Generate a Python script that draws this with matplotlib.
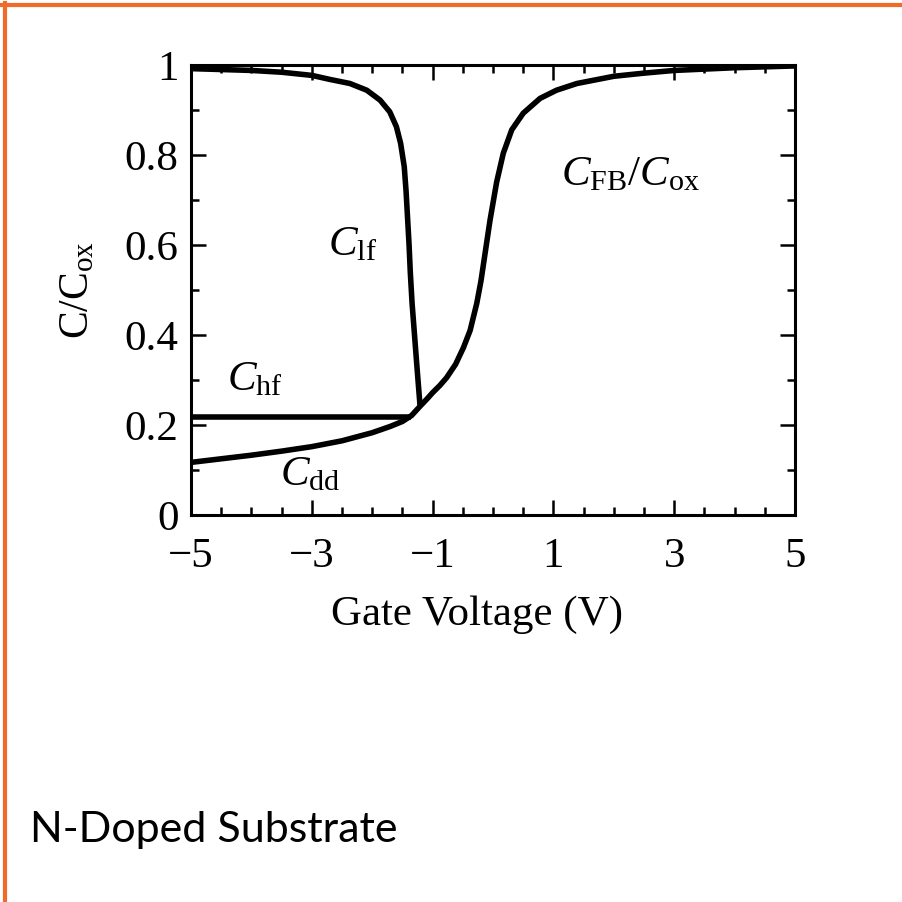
"""C-V curves of an MOS capacitor on an n-doped substrate."""

import matplotlib.pyplot as plt
from matplotlib.lines import Line2D
from matplotlib.ticker import MultipleLocator

plt.rcParams['font.family'] = ['Liberation Serif', 'DejaVu Serif']
plt.rcParams['mathtext.fontset'] = 'custom'
plt.rcParams['mathtext.rm'] = 'Liberation Serif'
plt.rcParams['mathtext.it'] = 'Liberation Serif:italic'

# depletion / flat-band branch (C_dd on the left, C_FB on the right)
v_main = [-5, -4.5, -4, -3.5, -3, -2.5, -2, -1.7, -1.5, -1.35, -1.2, -1.1,
          -1.0, -0.88, -0.77, -0.62, -0.49, -0.38, -0.27, -0.2, -0.1, -0.05,
          0.06, 0.17, 0.31, 0.5, 0.78, 1.05, 1.39, 2, 2.5, 3, 4, 5]
c_main = [0.117, 0.125, 0.133, 0.142, 0.152, 0.165, 0.183, 0.197, 0.208,
          0.221, 0.243, 0.257, 0.272, 0.288, 0.305, 0.335, 0.372, 0.41,
          0.47, 0.52, 0.61, 0.655, 0.74, 0.804, 0.856, 0.893, 0.926, 0.944,
          0.959, 0.975, 0.982, 0.988, 0.994, 0.998]

# low-frequency branch in inversion
v_lf = [-5, -4, -3.5, -3, -2.7, -2.37, -2.09, -1.87, -1.71, -1.6, -1.53,
        -1.47, -1.44, -1.415, -1.39, -1.37, -1.34, -1.3, -1.26, -1.21]
c_lf = [0.992, 0.988, 0.984, 0.977, 0.968, 0.959, 0.944, 0.922, 0.896,
        0.863, 0.826, 0.774, 0.72, 0.66, 0.6, 0.54, 0.47, 0.40, 0.33, 0.245]

# high-frequency branch in inversion
v_hf = [-5, -1.35]
c_hf = [0.218, 0.218]

x_ticks = [-5, -3, -1, 1, 3, 5]
x_labels = ['\u22125', '\u22123', '\u22121', '1', '3', '5']
y_ticks = [0, 0.2, 0.4, 0.6, 0.8, 1]
y_labels = ['0', '0.2', '0.4', '0.6', '0.8', '1']

curve_labels = [
    (r'$C_{\mathrm{lf}}$', -2.33, 0.60),
    (r'$C_{\mathrm{FB}}/C_{\mathrm{ox}}$', 2.27, 0.756),
    (r'$C_{\mathrm{hf}}$', -3.94, 0.30),
    (r'$C_{\mathrm{dd}}$', -3.03, 0.089),
]

fig = plt.figure(figsize=(9.02, 9.02), dpi=100)
ax = fig.add_axes([0.2118, 0.429, 0.6696, 0.4989])

lw = 4.0
for xs, ys in [(v_main, c_main), (v_lf, c_lf), (v_hf, c_hf)]:
    ax.plot(xs, ys, color='black', lw=lw, solid_capstyle='butt',
            solid_joinstyle='round')

ax.set_xlim(-5, 5)
ax.set_ylim(0, 1)
ax.set_xticks(x_ticks, x_labels)
ax.set_yticks(y_ticks, y_labels)
ax.xaxis.set_minor_locator(MultipleLocator(0.5))
ax.yaxis.set_minor_locator(MultipleLocator(0.1))
ax.tick_params(which='both', direction='in', top=True, right=True,
               width=1.8, labelsize=31)
ax.tick_params(which='major', length=10.5)
ax.tick_params(which='minor', length=5.5)
ax.tick_params(axis='x', pad=16)
ax.tick_params(axis='y', pad=9)
for sp in ax.spines.values():
    sp.set_linewidth(2.2)

ax.set_xlabel('Gate Voltage (V)', fontsize=31, labelpad=14, x=0.474)
ax.set_ylabel(r'$\mathrm{C/C_{ox}}$', fontsize=30, labelpad=20)

for text, x, y in curve_labels:
    ax.text(x, y, text, fontsize=31, ha='center', va='center')

fig.text(0.033, 0.08, 'N-Doped Substrate', fontsize=31, family='Lato',
         ha='left', va='center')

# slide frame edges
orange = '#EF6B2A'
fig.add_artist(Line2D([0, 1], [0.9945, 0.9945], color=orange, lw=3.0,
                      transform=fig.transFigure))
fig.add_artist(Line2D([0.0055, 0.0055], [0, 0.997], color=orange, lw=3.0,
                      transform=fig.transFigure))

fig.savefig('out.png', dpi=100)
